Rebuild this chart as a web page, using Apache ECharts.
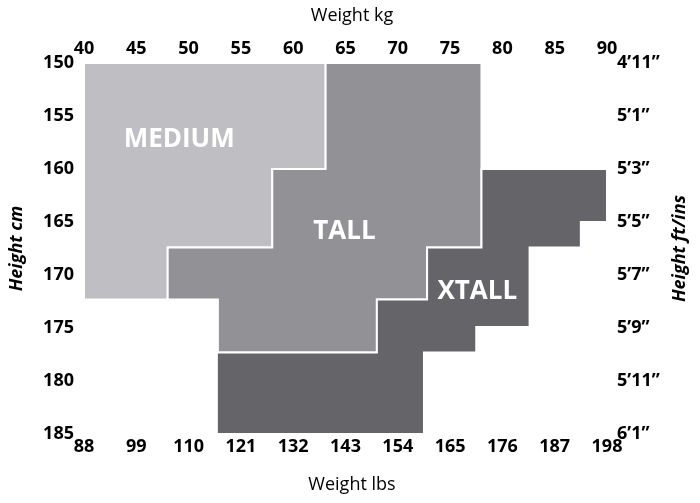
<!DOCTYPE html>
<html>
<head>
<meta charset="utf-8">
<script src="https://cdn.jsdelivr.net/npm/echarts@6/dist/echarts.min.js"></script>
<style>
html,body{margin:0;padding:0;background:#fff;}
#chart{width:700px;height:503px;}
</style>
</head>
<body>
<div id="chart"></div>
<script>
// tick labels
var kgTicks = [40, 45, 50, 55, 60, 65, 70, 75, 80, 85, 90];
var lbsLabels = ['88', '99', '110', '121', '132', '143', '154', '165', '176', '187', '198'];
var cmTicks = [150, 155, 160, 165, 170, 175, 180, 185];
var ftLabels = ['4\u201911\u201d', '5\u20191\u201d', '5\u20193\u201d', '5\u20195\u201d', '5\u20197\u201d', '5\u20199\u201d', '5\u201911\u201d', '6\u20191\u201d'];

// size regions, corners as [kg, cm]
var regionNames = ['MEDIUM', 'TALL', 'XTALL'];
var mediumShape = [[40, 150], [63.1, 150], [63.1, 160], [58, 160], [58, 167.4], [48, 167.4], [48, 172.3], [40, 172.3]];
var tallShape = [[63.1, 150], [78, 150], [78, 167.4], [72.8, 167.4], [72.8, 172.3], [68, 172.3], [68, 177.3], [52.8, 177.3],
    [52.8, 172.3], [48, 172.3], [48, 167.4], [58, 167.4], [58, 160], [63.1, 160]];
var xtallShape = [[78, 160], [90, 160], [90, 165], [87.5, 165], [87.5, 167.4], [82.6, 167.4], [82.6, 174.9], [77.5, 174.9],
    [77.5, 177.3], [72.5, 177.3], [72.5, 185], [52.7, 185], [52.7, 177.3], [68, 177.3], [68, 172.3], [72.8, 172.3],
    [72.8, 167.4], [78, 167.4]];
var labelKg = [49.1, 64.9, 77.6];
var labelCm = [157.2, 165.9, 171.6];

var shapes = [mediumShape, tallShape, xtallShape];
var colors = ['#bfbec3', '#929196', '#656469'];

var regionData = [];
for (var i = 0; i < regionNames.length; i++) {
    regionData.push([labelKg[i], labelCm[i], i]);
}

var tickFont = {color: '#000', fontSize: 18, fontWeight: 'bold', fontFamily: 'Open Sans'};

var myChart = echarts.init(document.getElementById('chart'));
var option = {
    animation: false,
    grid: {left: 82, right: 93, top: 63, bottom: 69},
    xAxis: [{
        type: 'value', position: 'top', min: 40, max: 90, interval: 5,
        name: 'Weight kg', nameLocation: 'middle', nameGap: 38,
        nameTextStyle: {color: '#000', fontSize: 18, fontFamily: 'Open Sans', padding: [0, 0, 0, 13]},
        axisLine: {show: false}, axisTick: {show: false}, splitLine: {show: false},
        axisLabel: Object.assign({margin: 5}, tickFont)
    }, {
        type: 'value', position: 'bottom', min: 40, max: 90, interval: 5,
        name: 'Weight lbs', nameLocation: 'middle', nameGap: 42,
        nameTextStyle: {color: '#000', fontSize: 18, fontFamily: 'Open Sans', padding: [0, 0, 0, 13]},
        axisLine: {show: false}, axisTick: {show: false}, splitLine: {show: false},
        axisLabel: Object.assign({
            margin: 4,
            formatter: function (v) { return lbsLabels[kgTicks.indexOf(v)]; }
        }, tickFont)
    }],
    yAxis: [{
        type: 'value', position: 'left', inverse: true, min: 150, max: 185, interval: 5,
        name: 'Height cm', nameLocation: 'middle', nameGap: 58,
        nameTextStyle: {color: '#000', fontSize: 18, fontWeight: 'bold', fontStyle: 'italic', fontFamily: 'Open Sans'},
        axisLine: {show: false}, axisTick: {show: false}, splitLine: {show: false},
        axisLabel: Object.assign({margin: 10}, tickFont)
    }, {
        type: 'value', position: 'right', inverse: true, min: 150, max: 185, interval: 5,
        name: 'Height ft/ins', nameLocation: 'middle', nameGap: 60,
        nameTextStyle: {color: '#000', fontSize: 18, fontWeight: 'bold', fontStyle: 'italic', fontFamily: 'Open Sans'},
        axisLine: {show: false}, axisTick: {show: false}, splitLine: {show: false},
        axisLabel: Object.assign({
            margin: 10,
            formatter: function (v) { return ftLabels[cmTicks.indexOf(v)]; }
        }, tickFont)
    }],
    series: [{
        type: 'custom',
        xAxisIndex: 0,
        yAxisIndex: 0,
        encode: {x: 0, y: 1},
        data: regionData,
        renderItem: function (params, api) {
            var idx = api.value(2);
            var pts = shapes[idx].map(function (p) { return api.coord(p); });
            var c = api.coord([api.value(0), api.value(1)]);
            return {
                type: 'group',
                children: [{
                    type: 'polygon',
                    shape: {points: pts},
                    style: {fill: colors[idx], stroke: '#fff', lineWidth: 2}
                }, {
                    type: 'text',
                    style: {
                        text: regionNames[idx], x: c[0], y: c[1],
                        fill: '#fff', fontSize: 26, fontWeight: 'bold', fontFamily: 'Open Sans',
                        align: 'center', verticalAlign: 'middle'
                    }
                }]
            };
        }
    }]
};
myChart.setOption(option);
</script>
</body>
</html>
